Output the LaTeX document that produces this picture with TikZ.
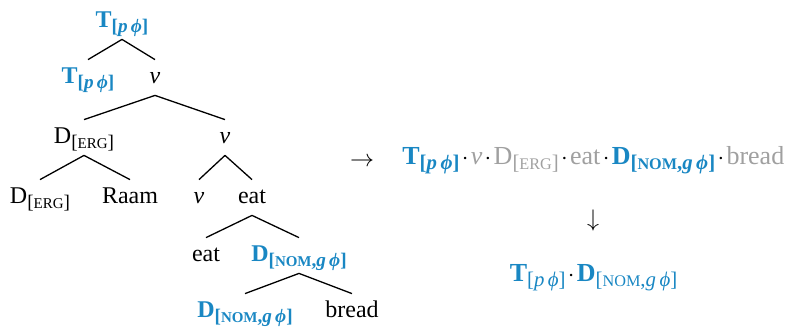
\documentclass[tikz,border=0pt]{standalone}
\usepackage{fontspec}
\setmainfont{Liberation Serif}
\definecolor{bl}{RGB}{25,135,195}
\definecolor{gr}{RGB}{160,160,160}
\makeatletter
\newcommand\sbs[1]{\raisebox{-0.5ex}{\fontsize{\strip@pt\dimexpr0.8\dimexpr\f@size pt\relax\relax}{1}\selectfont #1}}
\newcommand\scx[1]{{\fontsize{\strip@pt\dimexpr0.78\dimexpr\f@size pt\relax\relax}{1}\selectfont #1}}
\makeatother
\newcommand\Tpb{\textcolor{bl}{\textbf{T\sbs{[\textit{p}\,\textit{ϕ}]}}}}
\newcommand\Tpr{\textcolor{bl}{\textbf{T}\sbs{[\textit{p}\,\textit{ϕ}]}}}
\newcommand\Derg{D\sbs{[\scx{ERG}]}}
\newcommand\Dnomb{\textcolor{bl}{\textbf{D\sbs{[\scx{NOM},\textit{g}\,\textit{ϕ}]}}}}
\newcommand\Dnomr{\textcolor{bl}{\textbf{D}\sbs{[\scx{NOM},\textit{g}\,\textit{ϕ}]}}}
\newcommand\cd{\hspace{0.09em}$\cdot$\hspace{0.09em}}
\tikzset{
  tn/.style={anchor=base, inner xsep=0pt, inner ysep=0pt, text height=11.5pt, text depth=6pt},
  tx/.style={anchor=base, inner sep=0pt},
  br/.style={line width=0.65pt}
}
\begin{document}
\begin{tikzpicture}[x=0.5pt,y=-0.5pt, font=\fontsize{12}{14}\selectfont]
\useasboundingbox (0,0) rectangle (787,333);
% tree nodes
\node[tn] (n1) at (122,27) {\Tpb};
\node[tn] (n2) at (88,83) {\Tpb};
\node[tn] (n3) at (155,83) {\textit{v}};
\node[tn] (n4) at (84,143) {\Derg};
\node[tn] (n5) at (225,143) {\textit{v}};
\node[tn] (n6) at (40,203) {\Derg};
\node[tn] (n7) at (130,203) {Raam};
\node[tn] (n8) at (199,203) {\textit{v}};
\node[tn] (n9) at (252,203) {eat};
\node[tn] (n10) at (206,261) {eat};
\node[tn] (n11) at (299,261) {\Dnomb};
\node[tn] (n12) at (245,317) {\Dnomb};
\node[tn] (n13) at (352,317) {bread};
% branches
\draw[br] (n1.south) -- (n2.north);
\draw[br] (n1.south) -- (n3.north);
\draw[br] (n3.south) -- (n4.north);
\draw[br] (n3.south) -- (n5.north);
\draw[br] (n4.south) -- (n6.north);
\draw[br] (n4.south) -- (n7.north);
\draw[br] (n5.south) -- (n8.north);
\draw[br] (n5.south) -- (n9.north);
\draw[br] (n9.south) -- (n10.north);
\draw[br] (n9.south) -- (n11.north);
\draw[br] (n11.south) -- (n12.north);
\draw[br] (n11.south) -- (n13.north);
% right side
\node[tx] (ar1) at (362,166) {$\rightarrow$};
\node[tx, anchor=base west, font=\fontsize{13}{15}\selectfont] (lin) at (402,164) {\Tpb\cd\textcolor{gr}{\textit{v}}\cd\textcolor{gr}{\Derg}\cd\textcolor{gr}{eat}\cd\Dnomb\cd\textcolor{gr}{bread}};
\node[tx] (ar2) at (593,226) {$\downarrow$};
\node[tx, font=\fontsize{13}{15}\selectfont] (res) at (593.5,281) {\Tpr\cd\Dnomr};
\end{tikzpicture}
\end{document}
